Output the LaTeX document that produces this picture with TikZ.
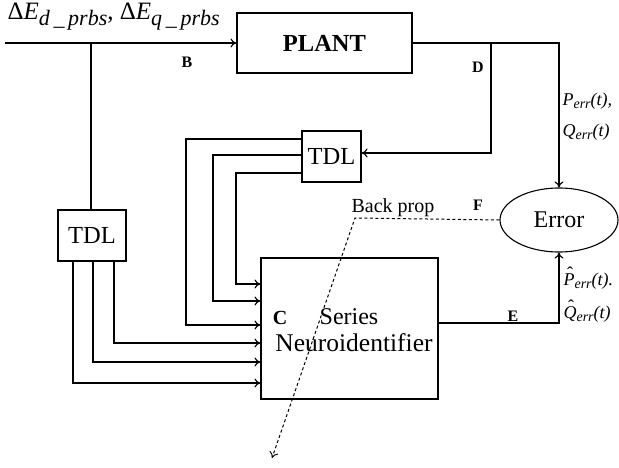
\documentclass[tikz,border=0pt]{standalone}
\usepackage{fontspec}
\setmainfont{Liberation Serif}
\usetikzlibrary{arrows.meta,shapes.geometric}
\newcommand\mysubA[1]{\raisebox{-6pt}{\fontsize{22}{22}\selectfont\itshape #1}}
\newcommand\mysubB[1]{\raisebox{-3.5pt}{\fontsize{14}{14}\selectfont\itshape #1}}
\newcommand\myhat[1]{\ooalign{\hbox{\itshape #1}\cr\hidewidth\kern2pt\raisebox{5.5pt}{\upshape ˆ}\hidewidth\cr}}
\begin{document}
\begin{tikzpicture}[x=1pt,y=-1pt,
  line width=1.1pt,
  arr/.style={-{To[length=6pt,width=9pt]}},
  blk/.style={draw,rectangle,inner sep=0pt},
  lbl/.style={inner sep=0pt,font=\fontsize{16}{18}\selectfont\bfseries},
  mlbl/.style={inner sep=0pt,anchor=west,font=\fontsize{18}{20}\selectfont\itshape},
  bp/.style={dash pattern=on 3pt off 2.5pt}]
\useasboundingbox (0,0) rectangle (619,468);
% blocks
\node[blk,minimum width=175pt,minimum height=60pt,font=\fontsize{24.5}{26}\selectfont\bfseries] (plant) at (324.5,43) {PLANT};
\node[blk,minimum width=68pt,minimum height=51pt,font=\fontsize{24.5}{26}\selectfont] (tdlA) at (92,235.5) {TDL};
\node[blk,minimum width=59pt,minimum height=51pt,font=\fontsize{24.5}{26}\selectfont] (tdlB) at (331.5,156.5) {TDL};
\node[blk,minimum width=177pt,minimum height=141pt] (ser) at (349.5,328.5) {};
\node[draw,ellipse,minimum width=118pt,minimum height=64pt,inner sep=0pt,font=\fontsize{24}{26}\selectfont] (err) at (559,220) {Error};
% texts in series block
\node[inner sep=0pt,font=\fontsize{24}{26}\selectfont] (sT1) at (349,317) {Series};
\node[inner sep=0pt,font=\fontsize{25.5}{27}\selectfont] (sT2) at (354,343) {Neuroidentifier};
\node[lbl,font=\fontsize{20}{22}\selectfont\bfseries] (lC) at (280,318) {C};
% coordinates
\coordinate (in) at (5,43);
\coordinate (jB) at (91,43);
\coordinate (jD) at (491,43);
\coordinate (pc) at (559,43);
\coordinate (dB) at (491,153);
\coordinate (ec) at (559,323);
\coordinate (bpc) at (355,218);
\coordinate (bpe) at (272,458);
% input
\node[inner sep=0pt,anchor=west,font=\fontsize{25}{27}\selectfont] (inlbl) at (7,17) {Δ\textit{E}\mysubA{d\,\_\,prbs}, Δ\textit{E}\mysubA{q\,\_\,prbs}};
\draw[arr] (in) -- (plant.west);
\draw (jB) -- (jB |- tdlA.north);
% plant output
\draw[arr] (plant.east) -- (pc) -- (err.north);
\draw[arr] (jD) -- (dB) -- (tdlB.east |- dB);
% TDL B outputs
\draw[arr] (tdlB.west |- 0,139) -| (186,325) -- (ser.west |- 0,325);
\draw[arr] (tdlB.west |- 0,155) -| (213,301) -- (ser.west |- 0,301);
\draw[arr] (tdlB.west |- 0,173) -| (236,284) -- (ser.west |- 0,284);
% TDL A outputs
\draw[arr] (73,0 |- tdlA.south) |- (ser.west |- 0,383);
\draw[arr] (93,0 |- tdlA.south) |- (ser.west |- 0,362);
\draw[arr] (114,0 |- tdlA.south) |- (ser.west |- 0,343);
% series output
\draw[arr] (ser.east |- ec) -- (ec) -- (err.south);
% back prop
\draw[arr,bp,line width=1pt] (err.west) -- (bpc) -- (bpe);
\node[inner sep=0pt,font=\fontsize{20}{22}\selectfont] (bplbl) at (393,208) {Back prop};
% letters
\node[lbl] (lB) at (187,62) {B};
\node[lbl] (lD) at (478,67) {D};
\node[lbl] (lF) at (478,205) {F};
\node[lbl] (lE) at (513,316) {E};
% signal labels
\node[mlbl] (p1) at (562,101) {P\mysubB{err}(t),};
\node[mlbl] (q1) at (562,132) {Q\mysubB{err}(t)};
\node[mlbl] (p2) at (563,281) {\myhat{P}\mysubB{err}(t).};
\node[mlbl] (q2) at (563,314) {\myhat{Q}\mysubB{err}(t)};
\end{tikzpicture}
\end{document}
